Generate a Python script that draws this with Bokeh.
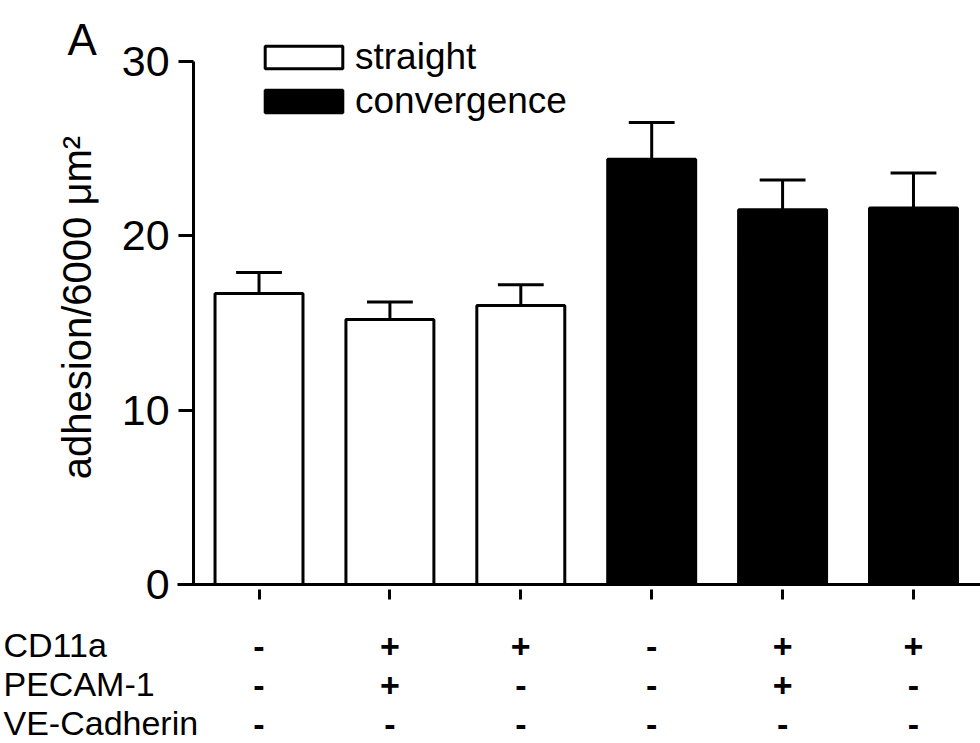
import math
from bokeh.plotting import figure
from bokeh.models import Range1d, Label, Legend, LegendItem, FixedTicker, ColumnDataSource
from bokeh.embed import file_html
from bokeh.resources import INLINE

# ---- data ----
groups = ["straight", "straight", "straight", "convergence", "convergence", "convergence"]
means = [16.7, 15.2, 16.0, 24.4, 21.5, 21.6]
sems = [1.2, 1.0, 1.2, 2.1, 1.7, 2.0]
row_names = ["CD11a", "PECAM-1", "VE-Cadherin"]
cd11a = ["-", "+", "+", "-", "+", "+"]
pecam1 = ["-", "+", "-", "-", "+", "-"]
vecadherin = ["-", "-", "-", "-", "-", "-"]
y_ticks = [0, 10, 20, 30]
y_label = "adhesion/6000 \u03bcm\u00b2"
panel_letter = "A"

# ---- layout constants ----
FONT = "Liberation Sans"
W, H = 980, 743
xs = list(range(len(means)))
bar_w = 0.672
cap_half = 0.175

p = figure(width=W, height=H, output_backend="svg", toolbar_location=None,
           x_range=Range1d(-1.975, 5.512), y_range=Range1d(-9.12, 33.5),
           min_border_left=0, min_border_right=0, min_border_top=0, min_border_bottom=0)
p.title.visible = False
p.background_fill_color = "white"
p.border_fill_color = "white"
p.outline_line_color = None
p.xgrid.visible = False
p.ygrid.visible = False

src = ColumnDataSource(dict(
    x=xs, top=means,
    err_top=[m + s for m, s in zip(means, sems)],
    cap_l=[x - cap_half for x in xs], cap_r=[x + cap_half for x in xs],
))

# error bars
p.segment(x0="x", y0="top", x1="x", y1="err_top", source=src, line_color="black", line_width=3)
p.segment(x0="cap_l", y0="err_top", x1="cap_r", y1="err_top", source=src, line_color="black", line_width=3)

renderers = {}
for g in ["straight", "convergence"]:
    idx = [i for i, gg in enumerate(groups) if gg == g]
    s = ColumnDataSource(dict(x=[xs[i] for i in idx], top=[means[i] for i in idx]))
    renderers[g] = p.vbar(x="x", top="top", bottom=0, width=bar_w, source=s,
                          fill_color="white" if g == "straight" else "black",
                          line_color="black", line_width=3)

# y axis, placed at the left edge of the first bar group
ya = p.yaxis[0]
ya.fixed_location = -0.5
ya.bounds = (0, 30)
ya.ticker = FixedTicker(ticks=y_ticks)
ya.axis_line_width = 3
ya.major_tick_line_width = 3
ya.major_tick_out = 15
ya.major_tick_in = 0
ya.minor_tick_out = 0
ya.minor_tick_in = 0
ya.major_label_text_font = FONT
ya.major_label_text_font_size = "43px"
ya.major_label_text_color = "black"
ya.major_label_standoff = 9

# x axis with stacked +/- labels
xa = p.xaxis[0]
xa.fixed_location = 0
xa.bounds = (-0.623, 5.512)
xa.ticker = FixedTicker(ticks=xs)
xa.major_label_overrides = {i: "\n".join([cd11a[i], pecam1[i], vecadherin[i]]) for i in xs}
xa.axis_line_width = 3
xa.major_tick_line_width = 3
xa.major_tick_out = 15
xa.major_tick_in = -5
xa.minor_tick_out = 0
xa.minor_tick_in = 0
xa.major_label_text_font = FONT
xa.major_label_text_font_size = "34px"
xa.major_label_text_font_style = "bold"
xa.major_label_text_color = "black"
xa.major_label_text_line_height = 1.03
xa.major_label_standoff = 27

# y axis title
p.add_layout(Label(x=76, y=H - 307, x_units="screen", y_units="screen",
                   text=y_label, angle=math.pi / 2, text_font=FONT, text_font_size="40px",
                   text_color="black", text_baseline="middle", text_align="center"))

# row names at left
for k, name in enumerate(row_names):
    p.add_layout(Label(x=3, y=H - (644 + 39 * k), x_units="screen", y_units="screen",
                       text=name, text_font=FONT, text_font_size="34px",
                       text_color="black", text_baseline="alphabetic", text_align="left"))

# panel letter
p.add_layout(Label(x=67, y=H - 39, x_units="screen", y_units="screen",
                   text=panel_letter, text_font=FONT, text_font_size="44px",
                   text_color="black", text_baseline="alphabetic", text_align="left"))

legend = Legend(items=[LegendItem(label="straight", renderers=[renderers["straight"]]),
                       LegendItem(label="convergence", renderers=[renderers["convergence"]])],
                location=(255, H - 122), orientation="vertical",
                glyph_width=97, glyph_height=28, label_height=40, spacing=2,
                padding=0, margin=0, label_standoff=3,
                label_text_font=FONT, label_text_font_size="37px", label_text_color="black",
                border_line_alpha=0, background_fill_alpha=0)
p.add_layout(legend, "center")

open("out.html", "w").write(file_html(p, INLINE))
